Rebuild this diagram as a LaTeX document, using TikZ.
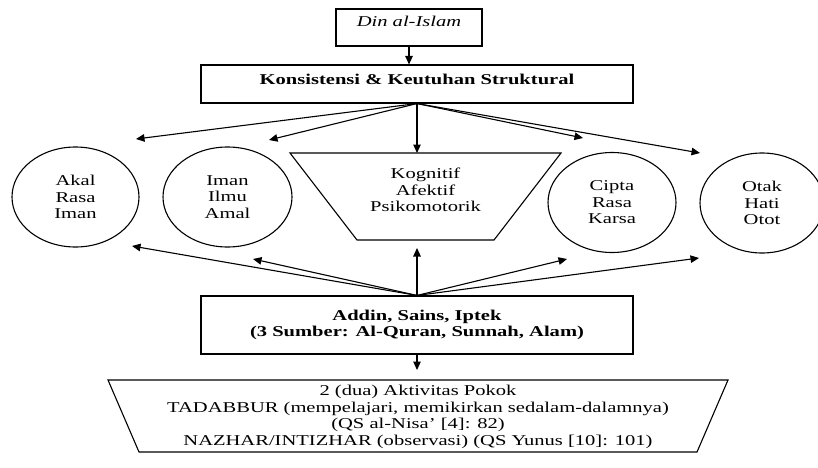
\documentclass[tikz,border=0pt]{standalone}
\usepackage{fontspec}
\setmainfont{Liberation Serif}[FakeStretch=1.37]
\usetikzlibrary{arrows.meta,positioning,calc,shapes.geometric}
\tikzset{
  kotak/.style={rectangle, draw, line width=1.1pt, inner sep=0pt},
  lonjong/.style={ellipse, draw, line width=1.1pt, inner sep=0pt, align=center,
                  minimum width=128pt, minimum height=100pt},
  garis/.style={line width=1.1pt, line join=miter},
  arr/.style={-{Triangle[length=8.5pt,width=7.5pt]}, line width=1.1pt},
}
\begin{document}
\begin{tikzpicture}[x=1pt, y=1pt, font=\fontsize{15}{16.5}\selectfont]
    \useasboundingbox (0,0) rectangle (818,467);
    % kotak atas
    \node[kotak, minimum width=146pt, text height=18pt, text depth=19pt] (din) at (409,439.5)
      {\textit{Din al-Islam}};
    \node[kotak, minimum width=432pt, text height=20pt, text depth=18pt] (kon) at (417,383)
      {\textbf{Konsistensi \& Keutuhan Struktural}};
    \draw[arr] (din.south) -- (din.south |- kon.north);
    % lingkaran
    \node[lonjong, minimum width=127pt] (e1) at (75.5,270) {Akal\\Rasa\\Iman};
    \node[lonjong, minimum width=129pt] (e2) at (227.5,270) {Iman\\Ilmu\\Amal};
    \node[lonjong] (e4) at (612,264.5) {Cipta\\Rasa\\Karsa};
    \node[lonjong, minimum width=124pt] (e5) at (762,264) {Otak\\Hati\\Otot};
    % trapesium tengah
    \node[align=center, inner sep=0pt] (kog) at (425.5,277) {Kognitif\\Afektif\\Psikomotorik};
    \draw[garis] (290,314) -- (561,314) -- (494,227) -- (357,227) -- cycle;
    % kotak sumber
    \node[kotak, align=center, minimum width=432pt, minimum height=58pt] (addin) at (417,142)
      {\textbf{Addin, Sains, Iptek}\\\textbf{(3 Sumber: Al-Quran, Sunnah, Alam)}};
    % trapesium bawah
    \node[align=center, inner sep=0pt] (akt) at (418,50)
      {2 (dua) Aktivitas Pokok\\TADABBUR (mempelajari, memikirkan sedalam-dalamnya)\\(QS al-Nisa’ [4]: 82)\\NAZHAR/INTIZHAR (observasi) (QS Yunus [10]: 101)};
    \draw[garis] (108,87) -- (728,87) -- (697,15) -- (139,15) -- cycle;
    % ujung panah
    \coordinate (e1atas) at ($(e1)+(60.5,58)$);
    \coordinate (e2atas) at ($(e2)+(41.5,57)$);
    \coordinate (e4atas) at ($(e4)+(-29,64.5)$);
    \coordinate (e5atas) at ($(e5)+(-62,50)$);
    \coordinate (kogatas) at (kon.south |- 0,314);
    \coordinate (e1bawah) at ($(e1)+(56.5,-49)$);
    \coordinate (e2bawah) at ($(e2)+(25.5,-62)$);
    \coordinate (e4bawah) at ($(e4)+(-45,-56.5)$);
    \coordinate (e5bawah) at ($(e5)+(-63,-55)$);
    \coordinate (kogbawah) at (addin.north |- 0,219);
    \coordinate (aktatas) at (addin.south |- 0,97);
    \foreach \u in {e1atas,e2atas,kogatas,e4atas,e5atas}
      \draw[arr] (kon.south) -- (\u);
    \foreach \u in {e1bawah,e2bawah,kogbawah,e4bawah,e5bawah}
      \draw[arr] (addin.north) -- (\u);
    \draw[arr] (addin.south) -- (aktatas);
\end{tikzpicture}
\end{document}
